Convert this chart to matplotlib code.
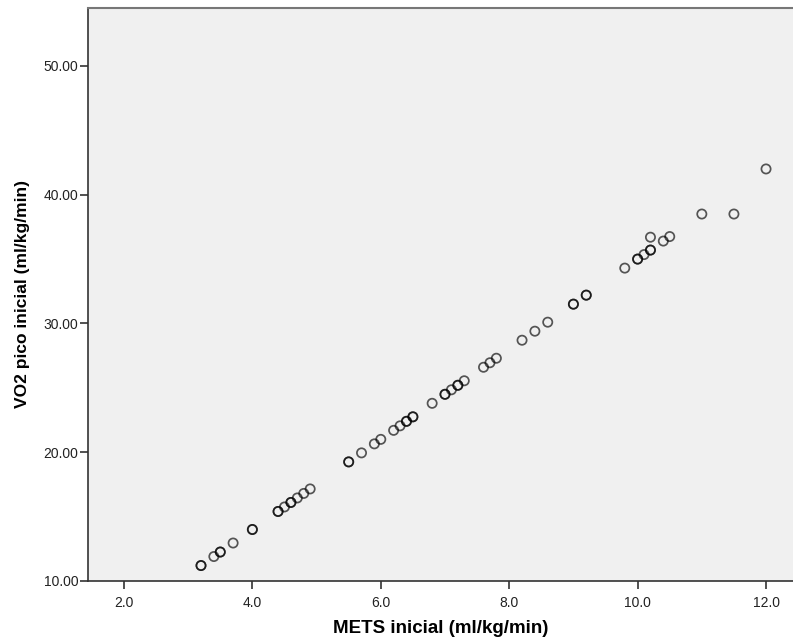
import matplotlib
matplotlib.use("Agg")
import matplotlib.pyplot as plt

# METS inicial vs VO2 pico inicial (duplicates repeated -> darker rings)
mets = [3.2, 3.2, 3.4, 3.5, 3.5, 3.7, 4.0, 4.0, 4.4, 4.4, 4.5, 4.6, 4.6, 4.7, 4.8, 4.9,
        5.5, 5.5, 5.7, 5.9, 6.0, 6.2, 6.3, 6.4, 6.4, 6.5, 6.5, 6.8, 7.0, 7.0, 7.1,
        7.2, 7.2, 7.3, 7.6, 7.7, 7.8, 8.2, 8.4, 8.6, 9.0, 9.0, 9.2, 9.2, 9.8,
        10.0, 10.0, 10.1, 10.2, 10.2, 10.2, 10.4, 10.5, 11.0, 11.5, 12.0]
vo2 = [11.2, 11.2, 11.9, 12.25, 12.25, 12.95, 14.0, 14.0, 15.4, 15.4, 15.75, 16.1, 16.1, 16.45, 16.8, 17.15,
       19.25, 19.25, 19.95, 20.65, 21.0, 21.7, 22.05, 22.4, 22.4, 22.75, 22.75, 23.8, 24.5, 24.5, 24.85,
       25.2, 25.2, 25.55, 26.6, 26.95, 27.3, 28.7, 29.4, 30.1, 31.5, 31.5, 32.2, 32.2, 34.3,
       35.0, 35.0, 35.35, 35.7, 35.7, 36.7, 36.4, 36.75, 38.5, 38.5, 42.0]

xticks = [2.0, 4.0, 6.0, 8.0, 10.0, 12.0]
yticks = [10.0, 20.0, 30.0, 40.0, 50.0]

plt.rcParams["font.family"] = ["Liberation Sans", "DejaVu Sans"]

fig = plt.figure(figsize=(7.93, 6.43), dpi=100)
ax = fig.add_axes([88/793, 1 - 581/643, 1 - 88/793, (581 - 8)/643])
ax.set_facecolor("#F0F0F0")

ax.scatter(mets, vo2, s=44, facecolors="none", edgecolors="#000000",
           linewidths=1.25, alpha=0.65, zorder=3)

ax.set_xlim(1.44, 12.42)
ax.set_ylim(10.0, 54.5)
ax.set_xticks(xticks)
ax.set_xticklabels([f"{t:.1f}" for t in xticks])
ax.set_yticks(yticks)
ax.set_yticklabels([f"{t:.2f}" for t in yticks])
ax.tick_params(direction="out", length=6, width=1.2, color="#333333",
               labelsize=10, labelcolor="#222222", pad=1)
ax.tick_params(axis="x", pad=5)

for side in ["left", "bottom"]:
    ax.spines[side].set_color("#333333")
    ax.spines[side].set_linewidth(1.2)
ax.spines["top"].set_color("#777777")
ax.spines["top"].set_linewidth(1.5)
ax.spines["right"].set_visible(False)

ax.set_xlabel("METS inicial (ml/kg/min)", fontsize=13.5, fontweight="bold", labelpad=7)
ax.set_ylabel("VO2 pico inicial (ml/kg/min)", fontsize=12.5, fontweight="bold", labelpad=10)

fig.savefig("out.png", dpi=100)
